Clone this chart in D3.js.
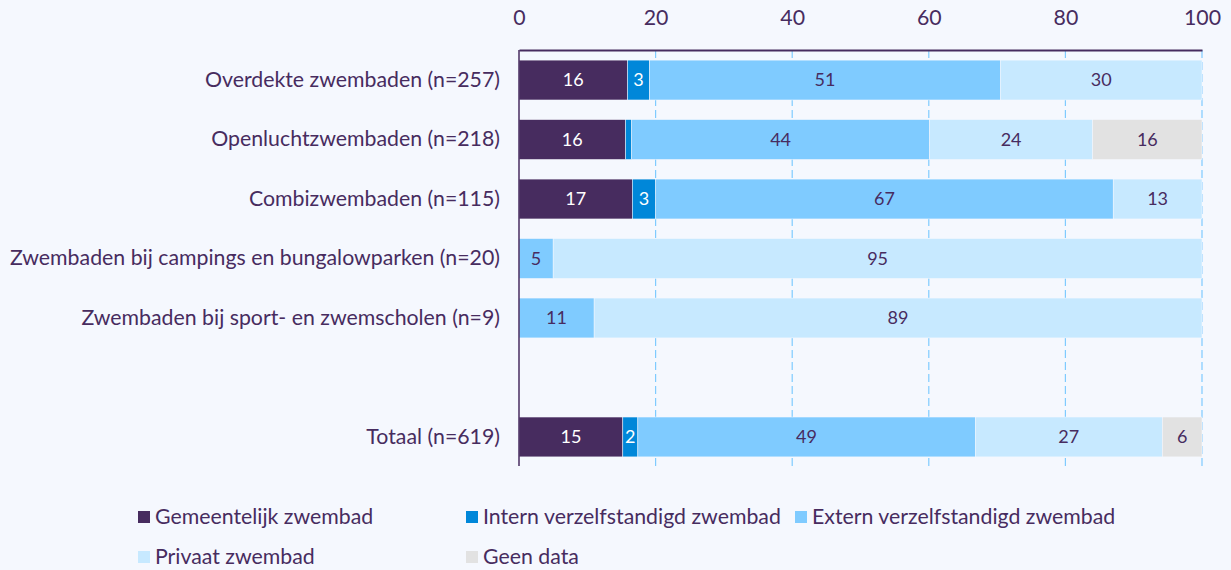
<!DOCTYPE html>
<html>
<head>
<meta charset="UTF-8">
<script src="https://cdn.jsdelivr.net/npm/d3@7"></script>
<style>
body { margin: 0; background: #f5f8fe; font-family: "Lato", sans-serif; }
svg { display: block; }
</style>
</head>
<body>
<div id="chart"></div>
<script>
// categories (empty string = spacer row)
var categories = [
  "Overdekte zwembaden (n=257)",
  "Openluchtzwembaden (n=218)",
  "Combizwembaden (n=115)",
  "Zwembaden bij campings en bungalowparken (n=20)",
  "Zwembaden bij sport- en zwemscholen (n=9)",
  "",
  "Totaal (n=619)"
];
var seriesNames = ["Gemeentelijk zwembad", "Intern verzelfstandigd zwembad", "Extern verzelfstandigd zwembad", "Privaat zwembad", "Geen data"];
var gemeentelijk = [15.9, 15.6, 16.6, 0, 0, null, 15.2];
var intern       = [3.2, 0.9, 3.4, 0, 0, null, 2.2];
var extern       = [51.4, 43.6, 67, 5, 11, null, 49.4];
var privaat      = [29.5, 23.9, 13, 95, 89, null, 27.4];
var geenData     = [0, 16, 0, 0, 0, null, 5.8];
var xTicks = [0, 20, 40, 60, 80, 100];

var colors = ["#472c5f", "#0087d9", "#7fcbff", "#c7e9ff", "#e2e2e2"];
var labelColors = ["#ffffff", "#ffffff", "#472c5f", "#472c5f", "#472c5f"];
var textColor = "#472c5f";

var w = 1231, h = 570;
var svg = d3.select("#chart").append("svg").attr("width", w).attr("height", h);

var x = d3.scaleLinear().domain([0, 100]).range([519, 1202]);
var y = d3.scaleBand().domain(categories).range([50, 467]).paddingInner(0.33).paddingOuter(0.17);

// rows -> stacked
var rows = categories.map(function(c, i) {
  return { cat: c, gemeentelijk: gemeentelijk[i], intern: intern[i], extern: extern[i], privaat: privaat[i], geen: geenData[i] };
}).filter(function(d) { return d.cat !== ""; });
var keys = ["gemeentelijk", "intern", "extern", "privaat", "geen"];
var stack = d3.stack().keys(keys)(rows);

// gridlines
svg.append("g").selectAll("line")
  .data(xTicks.slice(1))
  .enter().append("line")
  .attr("x1", d => x(d)).attr("x2", d => x(d))
  .attr("y1", 50).attr("y2", 466)
  .attr("stroke", "#7fcbff").attr("stroke-width", 1.2)
  .attr("stroke-dasharray", "8,4");

// bars
var layer = svg.append("g").selectAll("g")
  .data(stack).enter().append("g")
  .attr("fill", (d, i) => colors[i]);

layer.selectAll("rect")
  .data(d => d.map(function(v) { v.key = d.key; return v; }))
  .enter().append("rect")
  .attr("x", d => x(d[0]))
  .attr("y", d => y(d.data.cat))
  .attr("width", d => x(d[1]) - x(d[0]))
  .attr("height", y.bandwidth())
  .attr("stroke", "#f5f8fe").attr("stroke-width", 0.5);

// bar labels
stack.forEach(function(s, i) {
  svg.append("g").selectAll("text")
    .data(s.filter(d => d[1] - d[0] >= 1.5))
    .enter().append("text")
    .attr("x", d => x((d[0] + d[1]) / 2))
    .attr("y", d => y(d.data.cat) + y.bandwidth() / 2)
    .attr("dy", "0.35em")
    .attr("text-anchor", "middle")
    .attr("fill", labelColors[i])
    .style("font-size", "18px")
    .text(d => Math.round(d[1] - d[0]));
});

// top axis
var xAxis = svg.append("g").attr("transform", "translate(0,50)")
  .call(d3.axisTop(x).tickValues(xTicks).tickSize(0).tickPadding(25));
xAxis.select(".domain").attr("stroke", textColor).attr("stroke-width", 2);
xAxis.selectAll("text").attr("fill", textColor).style("font-size", "21.3px").style("font-family", "Lato");

// left axis
var yAxis = svg.append("g").attr("transform", "translate(519,0)")
  .call(d3.axisLeft(y).tickSize(0).tickPadding(19));
yAxis.select(".domain").remove();
yAxis.append("line").attr("x1", 0).attr("x2", 0).attr("y1", 50).attr("y2", 466)
  .attr("stroke", textColor).attr("stroke-width", 1.5);
yAxis.selectAll("text").attr("fill", textColor).style("font-size", "21.3px").style("font-family", "Lato");

// legend
var legendPos = [[138, 517], [466, 517], [795, 517], [138, 557], [466, 557]];
var legend = svg.append("g").selectAll("g")
  .data(seriesNames).enter().append("g")
  .attr("transform", (d, i) => "translate(" + legendPos[i][0] + "," + legendPos[i][1] + ")");
legend.append("rect").attr("x", 0).attr("y", -6).attr("width", 12).attr("height", 12)
  .attr("fill", (d, i) => colors[i]);
legend.append("text").attr("x", 17).attr("dy", "0.35em")
  .attr("fill", textColor).style("font-size", "21.3px").text(d => d);
</script>
</body>
</html>
